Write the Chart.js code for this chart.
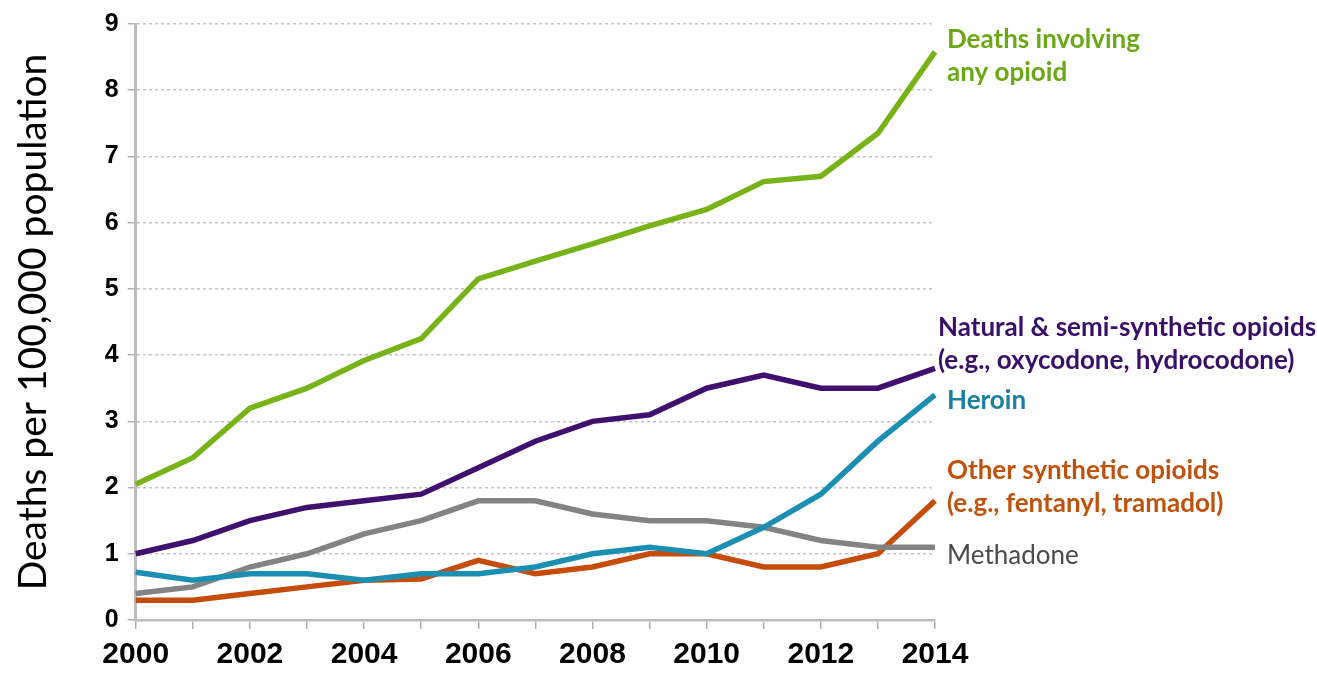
<!DOCTYPE html>
<html>
<head>
<meta charset="utf-8">
<script src="https://cdn.jsdelivr.net/npm/chart.js@4.4.1/dist/chart.umd.min.js"></script>
<style>
  html, body { margin: 0; padding: 0; background: #fff; }
  #wrap { width: 1317px; height: 685px; }
</style>
</head>
<body>
<div id="wrap"><canvas id="opioidChart" width="1317" height="685"></canvas></div>
<script>
// years and rates (deaths per 100,000)
const years = ['2000','2001','2002','2003','2004','2005','2006','2007','2008','2009','2010','2011','2012','2013','2014'];
const anyOpioid = [2.05, 2.45, 3.2, 3.5, 3.92, 4.25, 5.15, 5.42, 5.68, 5.95, 6.2, 6.62, 6.7, 7.35, 8.58];
const natural = [1.0, 1.2, 1.5, 1.7, 1.8, 1.9, 2.3, 2.7, 3.0, 3.1, 3.5, 3.7, 3.5, 3.5, 3.8];
const heroin = [0.72, 0.6, 0.7, 0.7, 0.6, 0.7, 0.7, 0.8, 1.0, 1.1, 1.0, 1.4, 1.9, 2.7, 3.4];
const methadone = [0.4, 0.5, 0.8, 1.0, 1.3, 1.5, 1.8, 1.8, 1.6, 1.5, 1.5, 1.4, 1.2, 1.1, 1.1];
const otherSynth = [0.3, 0.3, 0.4, 0.5, 0.6, 0.62, 0.9, 0.7, 0.8, 1.0, 1.0, 0.8, 0.8, 1.0, 1.8];
const yTicks = [0, 1, 2, 3, 4, 5, 6, 7, 8, 9];

const names = ['Deaths involving any opioid', 'Natural & semi-synthetic opioids', 'Heroin', 'Methadone', 'Other synthetic opioids'];
const values = [anyOpioid, natural, heroin, methadone, otherSynth];
const lineColors = ['#77b317', '#40106f', '#1b8fb1', '#838383', '#c64c0a'];

// labels to the right of the lines
const labelLines = [
  ['Deaths involving', 'any opioid'],
  ['Natural & semi-synthetic opioids', '(e.g., oxycodone, hydrocodone)'],
  ['Heroin'],
  ['Other synthetic opioids', '(e.g., fentanyl, tramadol)'],
  ['Methadone']
];
const labelColors = ['#6aa815', '#3a0f68', '#1a7fa0', '#bf520c', '#4a4a4a'];
const labelAnchors = [8.76, 4.42, 3.31, 2.25, 0.97];
const labelIndent = [12, 3, 12, 12, 12];

const endLabels = {
  id: 'endLabels',
  afterDraw(chart) {
    const ctx = chart.ctx;
    const y = chart.scales.y;
    const right = chart.chartArea.right;
    ctx.save();
    ctx.textBaseline = 'middle';
    ctx.textAlign = 'left';
    labelLines.forEach((lines, i) => {
      ctx.fillStyle = labelColors[i];
      ctx.font = (i === 4 ? '' : 'bold ') + '26px Lato';
      lines.forEach((t, j) => {
        ctx.fillText(t, right + labelIndent[i], y.getPixelForValue(labelAnchors[i]) + j * 33);
      });
    });
    ctx.restore();
  }
};

new Chart(document.getElementById('opioidChart'), {
  type: 'line',
  data: {
    labels: years,
    datasets: values.map((v, i) => ({
      label: names[i],
      data: v,
      borderColor: lineColors[i],
      borderWidth: 5.5,
      pointRadius: 0,
      tension: 0,
      fill: false
    }))
  },
  options: {
    responsive: false,
    animation: false,
    layout: { padding: { top: 0, right: 382, left: 10, bottom: 4 } },
    plugins: { legend: { display: false }, tooltip: { enabled: false } },
    scales: {
      x: {
        offset: false,
        grid: { display: true, drawOnChartArea: false, drawTicks: true, tickLength: 9, color: '#b0b0b0', lineWidth: 1.5 },
        border: { display: true, color: '#bdbdbd', width: 2.5 },
        ticks: {
          autoSkip: false,
          maxRotation: 0,
          padding: 8,
          color: '#000',
          font: { family: 'Liberation Sans', weight: 'bold', size: 30 },
          callback: function (val, idx) { return idx % 2 === 0 ? years[idx] : ''; }
        }
      },
      y: {
        min: 0,
        max: 9,
        afterBuildTicks: (s) => { s.ticks = yTicks.map(v => ({ value: v })); },
        grid: { color: '#c4c4c4', lineWidth: 1.5, tickLength: 8, tickColor: '#b0b0b0', tickBorderDash: [] },
        border: { display: true, color: '#bdbdbd', width: 3, dash: [3, 3] },
        ticks: {
          padding: 9,
          color: '#000',
          font: { family: 'Liberation Sans', weight: 'bold', size: 25 }
        },
        title: {
          display: true,
          text: 'Deaths per 100,000 population',
          color: '#000',
          padding: { top: 0, bottom: 39 },
          font: { family: 'Lato', size: 39 }
        }
      }
    }
  },
  plugins: [endLabels]
});
</script>
</body>
</html>
